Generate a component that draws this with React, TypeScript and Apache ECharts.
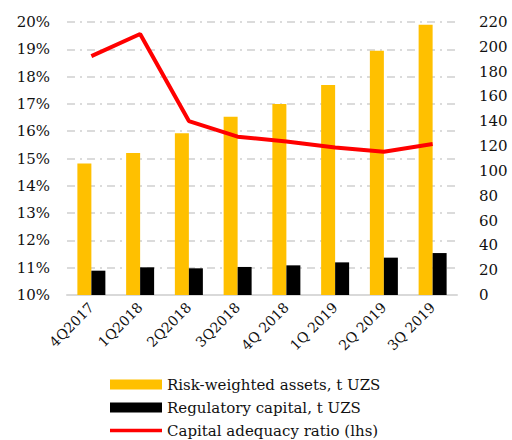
import React, { useEffect, useRef } from "react";
import * as echarts from "echarts";

const categories = ["4Q2017", "1Q2018", "2Q2018", "3Q2018", "4Q 2018", "1Q 2019", "2Q 2019", "3Q 2019"];
const riskWeightedAssets = [106, 114.4, 130.3, 143.7, 153.9, 169.2, 196.9, 217.8];
const regulatoryCapital = [19.6, 22.3, 21.5, 22.6, 23.9, 26.3, 30.1, 33.8];
const capitalAdequacyRatio = [18.75, 19.56, 16.37, 15.8, 15.62, 15.4, 15.25, 15.53];

const FONT = "DejaVu Serif";

export default function App() {
  const ref = useRef<HTMLDivElement>(null);
  useEffect(() => {
    if (!ref.current) return;
    const chart = echarts.init(ref.current, null, { renderer: "svg" });
    chart.setOption({
      animation: false,
      textStyle: { fontFamily: FONT },
      grid: { left: 67, right: 55, top: 22, bottom: 145, containLabel: false },
      legend: {
        orient: "vertical",
        left: 105,
        top: 372,
        height: 120,
        itemWidth: 52,
        itemHeight: 10,
        itemGap: 8,
        textStyle: { fontFamily: FONT, fontSize: 15, color: "#111" },
        data: [
          { name: "Risk-weighted assets, t UZS", icon: "rect" },
          { name: "Regulatory capital, t UZS", icon: "rect" },
          { name: "Capital adequacy ratio (lhs)", icon: "path://M0,0 L52,0 L52,3.5 L0,3.5 Z" },
        ],
      },
      xAxis: {
        type: "category",
        data: categories,
        axisLine: { show: true, lineStyle: { color: "#d9d9d9", width: 2 } },
        axisTick: { show: false },
        axisLabel: { rotate: 45, fontFamily: FONT, fontSize: 14, color: "#111", margin: 10, interval: 0 },
      },
      yAxis: [
        {
          type: "value",
          min: 10,
          max: 20,
          interval: 1,
          position: "left",
          axisLine: { show: false },
          axisTick: { show: false },
          axisLabel: { formatter: "{value}%", fontFamily: FONT, fontSize: 15, color: "#111", margin: 17 },
          splitLine: { show: true, lineStyle: { color: "#d0d0d0", width: 1.5, type: [8, 5, 2, 5] } },
        },
        {
          type: "value",
          min: 0,
          max: 220,
          interval: 20,
          position: "right",
          axisLine: { show: false },
          axisTick: { show: false },
          axisLabel: { fontFamily: FONT, fontSize: 15, color: "#111", margin: 22, align: "left" },
          splitLine: { show: false },
        },
      ],
      series: [
        {
          name: "Risk-weighted assets, t UZS",
          type: "bar",
          yAxisIndex: 1,
          data: riskWeightedAssets,
          barWidth: 14,
          barGap: "0%",
          itemStyle: { color: "#ffc000" },
        },
        {
          name: "Regulatory capital, t UZS",
          type: "bar",
          yAxisIndex: 1,
          data: regulatoryCapital,
          barWidth: 14,
          barGap: "0%",
          itemStyle: { color: "#000000" },
        },
        {
          name: "Capital adequacy ratio (lhs)",
          type: "line",
          yAxisIndex: 0,
          data: capitalAdequacyRatio,
          symbol: "none",
          lineStyle: { color: "#ff0000", width: 4 },
          itemStyle: { color: "#ff0000" },
        },
      ],
    });
    return () => chart.dispose();
  }, []);
  return <div ref={ref} style={{ position: "absolute", left: 0, top: 0, width: 512, height: 440 }} />;
}
